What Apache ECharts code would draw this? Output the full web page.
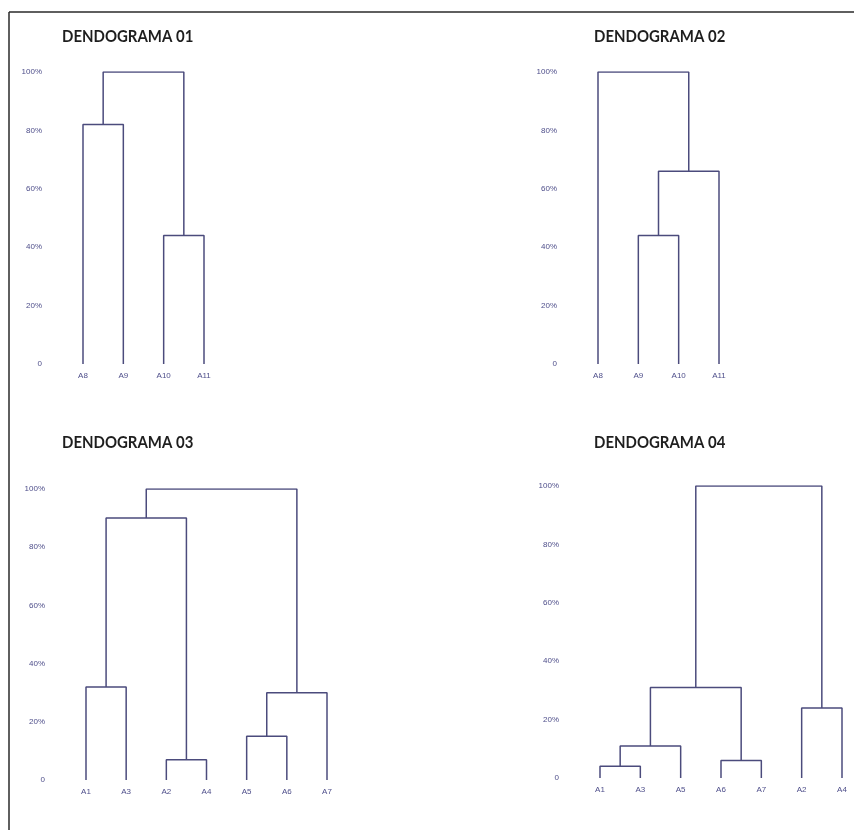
<!DOCTYPE html>
<html>
<head>
<meta charset="utf-8">
<script src="https://cdn.jsdelivr.net/npm/echarts@6/dist/echarts.min.js"></script>
<style>
html,body{margin:0;padding:0;background:#fff;}
#c{width:854px;height:830px;}
</style>
</head>
<body>
<div id="c"></div>
<script>
// ---- data ----
const titles = ['DENDOGRAMA 01', 'DENDOGRAMA 02', 'DENDOGRAMA 03', 'DENDOGRAMA 04'];
const yTicks = [0, 20, 40, 60, 80, 100];

const leaves1 = ['A8', 'A9', 'A10', 'A11'];
// merges: [child a, child b, height %]; node ids >= leaves.length refer to earlier merges
const merges1 = [[0, 1, 82], [2, 3, 44], [4, 5, 100]];

const leaves2 = ['A8', 'A9', 'A10', 'A11'];
const merges2 = [[1, 2, 44], [4, 3, 66], [0, 5, 100]];

const leaves3 = ['A1', 'A3', 'A2', 'A4', 'A5', 'A6', 'A7'];
const merges3 = [[0, 1, 32], [2, 3, 7], [4, 5, 15], [7, 8, 90], [9, 6, 30], [10, 11, 100]];

const leaves4 = ['A1', 'A3', 'A5', 'A6', 'A7', 'A2', 'A4'];
const merges4 = [[0, 1, 4], [7, 2, 11], [3, 4, 6], [8, 9, 31], [5, 6, 24], [10, 11, 100]];

// ---- layout ----
const panels = [
  { leaves: leaves1, merges: merges1, grid: { left: 83, top: 72, width: 121, height: 292 }, title: { x: 62, y: 37 } },
  { leaves: leaves2, merges: merges2, grid: { left: 598, top: 72, width: 121, height: 292 }, title: { x: 594, y: 37 } },
  { leaves: leaves3, merges: merges3, grid: { left: 86, top: 489, width: 241, height: 291 }, title: { x: 62, y: 443 } },
  { leaves: leaves4, merges: merges4, grid: { left: 600, top: 486, width: 242, height: 292 }, title: { x: 594, y: 443 } }
];

const lineColor = '#4b4b7c';
const labelColor = '#4e4e8a';
const labelFont = 'Liberation Sans, Arial, sans-serif';

const option = {
  animation: false,
  backgroundColor: '#ffffff',
  grid: [], xAxis: [], yAxis: [], series: [],
  graphic: [
    { type: 'line', shape: { x1: 9, y1: 12, x2: 854, y2: 12 }, style: { stroke: '#2a2a2a', lineWidth: 1.5 } },
    { type: 'line', shape: { x1: 9, y1: 12, x2: 9, y2: 830 }, style: { stroke: '#2a2a2a', lineWidth: 1.5 } }
  ]
};

panels.forEach((p, gi) => {
  option.graphic.push({
    type: 'text', x: p.title.x, y: p.title.y, scaleX: 0.88, silent: true,
    style: {
      text: titles[gi], fill: '#1e1e1e', fontFamily: 'Lato', fontWeight: 'bold', fontSize: 17,
      align: 'left', verticalAlign: 'middle'
    }
  });
  option.grid.push(Object.assign({ containLabel: false }, p.grid));
  const n = p.leaves.length;
  option.xAxis.push({
    type: 'value', gridIndex: gi, min: 0, max: n - 1, interval: 1,
    axisLine: { show: false }, axisTick: { show: false }, splitLine: { show: false },
    axisLabel: {
      showMinLabel: true, showMaxLabel: true, margin: 8,
      color: labelColor, fontSize: 8, fontFamily: labelFont,
      formatter: v => p.leaves[Math.round(v)] || ''
    }
  });
  option.yAxis.push({
    type: 'value', gridIndex: gi, min: yTicks[0], max: yTicks[yTicks.length - 1], interval: 20,
    axisLine: { show: false }, axisTick: { show: false }, splitLine: { show: false },
    axisLabel: {
      margin: 41, color: labelColor, fontSize: 8, fontFamily: labelFont,
      formatter: v => (v === 0 ? '0' : v + '%')
    }
  });
  // node positions
  const nodes = p.leaves.map((_, i) => ({ x: i, y: 0 }));
  p.merges.forEach(m => {
    const a = nodes[m[0]], b = nodes[m[1]];
    nodes.push({ x: (a.x + b.x) / 2, y: m[2] });
    option.series.push({
      type: 'line', xAxisIndex: gi, yAxisIndex: gi,
      symbol: 'none', silent: true,
      lineStyle: { color: lineColor, width: 1.5 },
      data: [[a.x, a.y], [a.x, m[2]], [b.x, m[2]], [b.x, b.y]]
    });
  });
});

const chart = echarts.init(document.getElementById('c'), null, { renderer: 'canvas' });
chart.setOption(option);
</script>
</body>
</html>
